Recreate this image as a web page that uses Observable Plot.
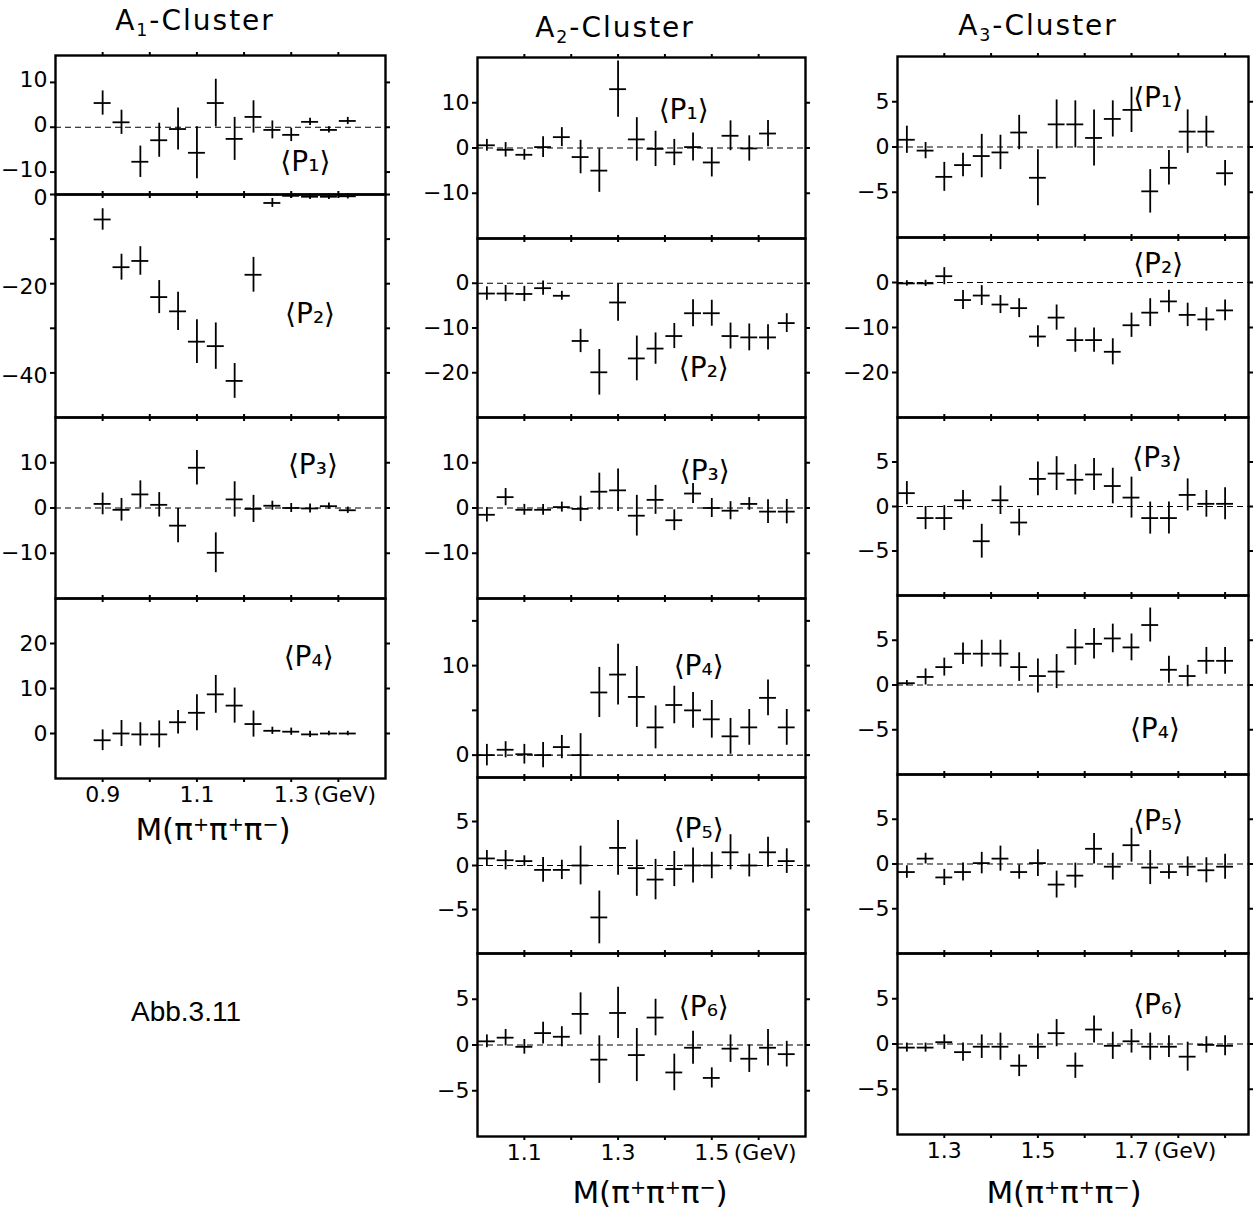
<!DOCTYPE html>
<html>
<head>
<meta charset="utf-8">
<script src="https://cdn.jsdelivr.net/npm/d3@7"></script>
<script src="https://cdn.jsdelivr.net/npm/@observablehq/plot@0.6"></script>
<style>
  body { margin: 0; background: #fff; }
  #fig { position: relative; width: 1255px; height: 1212px; overflow: hidden; color: #000; background: #fff; }
  #fig svg { position: absolute; overflow: visible; }
  .t { position: absolute; white-space: nowrap; line-height: 1; text-align: center; color: #000; }
  .sub { font-size: 0.62em; position: relative; top: 0.32em; }
  .sup { font-size: 0.62em; position: relative; top: -0.45em; }
</style>
</head>
<body>
<div id="fig"></div>
<script>
// ---- mass bin centres, GeV ----
const A1_X = [0.90, 0.94, 0.98, 1.02, 1.06, 1.10, 1.14, 1.18, 1.22, 1.26, 1.30, 1.34, 1.38, 1.42];
const A2_X = [1.02, 1.06, 1.10, 1.14, 1.18, 1.22, 1.26, 1.30, 1.34, 1.38, 1.42, 1.46, 1.50, 1.54, 1.58, 1.62, 1.66];
const A3_X = [1.22, 1.26, 1.30, 1.34, 1.38, 1.42, 1.46, 1.50, 1.54, 1.58, 1.62, 1.66, 1.70, 1.74, 1.78, 1.82, 1.86, 1.90];
const BIN_HALF_WIDTH = 0.018;

// ---- A1 cluster: moments <P_l> and errors ----
const A1_P1 = [5.4, 1.1, -7.7, -2.9, -0.4, -5.7, 5.4, -2.6, 2.3, -0.6, -1.7, 1.2, -0.6, 1.4];
const A1_P1_ERR = [2.7, 2.7, 3.5, 3.8, 4.7, 5.8, 5.3, 4.8, 3.6, 2.0, 1.5, 0.8, 0.7, 0.8];
const A1_P2 = [-5.6, -16.3, -14.9, -23.0, -26.2, -33.0, -34.0, -41.8, -18.0, -1.9, -0.3, -0.5, -0.5, -0.4];
const A1_P2_ERR = [2.4, 2.9, 3.2, 3.7, 4.3, 4.9, 5.2, 3.9, 3.9, 1.0, 0.6, 0.6, 0.6, 0.6];
const A1_P3 = [0.9, -0.4, 3.0, 0.7, -3.9, 8.9, -9.9, 1.9, -0.2, 0.5, 0.0, -0.1, 0.4, -0.5];
const A1_P3_ERR = [2.4, 2.5, 3.0, 2.7, 3.8, 3.8, 4.4, 3.9, 3.0, 1.0, 1.0, 1.0, 0.7, 0.7];
const A1_P4 = [-1.5, 0.0, -0.2, -0.2, 2.5, 4.6, 8.7, 6.2, 2.1, 0.6, 0.4, -0.2, 0.0, 0.0];
const A1_P4_ERR = [2.3, 2.9, 2.6, 3.0, 2.6, 4.0, 4.2, 3.9, 2.9, 0.8, 0.8, 0.7, 0.5, 0.5];

// ---- A2 cluster ----
const A2_P1 = [0.6, -0.4, -1.5, 0.2, 2.4, -2.0, -5.0, 13.0, 1.9, -0.2, -1.0, 0.2, -3.2, 2.7, -0.1, 3.2];
const A2_P1_ERR = [1.3, 1.6, 1.2, 2.3, 2.1, 3.7, 4.8, 6.2, 4.8, 3.9, 2.9, 3.1, 3.2, 3.3, 2.8, 2.9];
const A2_P2 = [-2.3, -2.3, -2.4, -1.1, -2.8, -12.9, -19.9, -4.3, -16.8, -14.6, -11.8, -6.7, -6.7, -11.8, -12.1, -12.1, -8.9];
const A2_P2_ERR = [1.5, 1.8, 1.7, 1.6, 1.0, 2.6, 5.1, 4.2, 5.0, 3.5, 2.8, 3.0, 2.9, 2.9, 3.0, 2.8, 2.1];
const A2_P3 = [-1.5, 2.4, -0.4, -0.4, 0.2, -0.2, 3.6, 3.9, -1.7, 1.8, -2.7, 3.2, 0.0, -0.6, 0.9, -0.8, -0.8];
const A2_P3_ERR = [1.6, 1.9, 1.2, 1.2, 1.1, 2.8, 4.1, 4.7, 4.5, 3.2, 2.3, 2.2, 2.1, 2.0, 1.4, 2.6, 2.7];
const A2_P4 = [0.0, 0.6, 0.1, 0.0, 0.9, 0.0, 7.0, 9.0, 6.5, 3.1, 5.6, 5.0, 4.0, 2.1, 3.1, 6.4, 3.1];
const A2_P4_ERR = [1.2, 0.9, 1.1, 1.4, 1.3, 2.4, 2.8, 3.4, 3.4, 2.4, 2.1, 2.0, 2.1, 2.0, 2.0, 2.0, 2.0];
const A2_P5 = [0.8, 0.6, 0.5, -0.5, -0.5, 0.0, -5.9, 2.0, -0.3, -1.6, -0.4, 0.0, 0.0, 1.5, 0.0, 1.5, 0.5];
const A2_P5_ERR = [0.9, 1.1, 0.6, 1.4, 1.1, 2.2, 3.0, 3.1, 3.2, 2.3, 2.0, 2.0, 1.5, 2.0, 1.3, 1.7, 1.4];
const A2_P6 = [0.4, 0.8, -0.2, 1.3, 0.9, 3.4, -1.6, 3.5, -1.1, 3.0, -3.0, -0.3, -3.6, -0.4, -1.5, -0.3, -1.0];
const A2_P6_ERR = [0.7, 0.9, 0.8, 1.2, 1.1, 2.3, 2.6, 2.8, 2.9, 2.0, 2.0, 1.8, 1.1, 1.5, 1.5, 2.0, 1.4];

// ---- A3 cluster ----
const A3_P1 = [0.8, -0.4, -3.3, -2.0, -1.0, -0.6, 1.6, -3.4, 2.5, 2.5, 1.0, 3.1, 4.1, -4.9, -2.3, 1.7, 1.7, -2.9];
const A3_P1_ERR = [1.5, 0.9, 1.6, 1.3, 2.4, 1.9, 1.9, 3.1, 2.7, 2.6, 3.1, 2.0, 2.5, 2.4, 1.9, 2.4, 1.7, 1.4];
const A3_P2 = [-0.2, -0.2, 1.4, -3.9, -2.9, -4.9, -5.7, -12.0, -7.8, -12.8, -12.8, -15.4, -9.5, -6.7, -4.2, -7.2, -8.2, -6.2];
const A3_P2_ERR = [0.6, 0.7, 1.9, 2.1, 2.2, 2.0, 2.1, 2.4, 2.8, 2.7, 2.7, 2.9, 2.7, 3.1, 2.5, 2.6, 2.6, 2.3];
const A3_P3 = [1.5, -1.3, -1.3, 0.7, -3.9, 0.7, -1.8, 3.1, 3.7, 3.0, 3.6, 2.3, 1.0, -1.3, -1.3, 1.3, 0.3, 0.3];
const A3_P3_ERR = [1.3, 1.3, 1.4, 1.1, 1.9, 1.6, 1.5, 1.9, 1.9, 1.7, 1.8, 2.0, 2.3, 1.8, 1.8, 1.8, 1.5, 1.8];
const A3_P4 = [0.2, 0.9, 2.0, 3.5, 3.5, 3.5, 2.0, 1.0, 1.5, 4.2, 4.6, 5.2, 4.2, 6.7, 1.7, 1.0, 2.7, 2.7];
const A3_P4_ERR = [0.3, 0.9, 1.0, 1.2, 1.5, 1.5, 1.6, 1.9, 1.9, 2.0, 1.7, 1.6, 1.5, 1.9, 1.5, 1.2, 1.5, 1.5];
const A3_P5 = [-0.9, 0.6, -1.5, -0.9, 0.1, 0.6, -0.9, 0.1, -2.3, -1.3, 1.7, -0.3, 2.1, -0.4, -0.9, -0.3, -0.7, -0.3];
const A3_P5_ERR = [0.7, 0.6, 0.9, 1.0, 1.2, 1.4, 0.8, 1.5, 1.5, 1.4, 1.7, 1.5, 1.9, 1.9, 0.8, 1.1, 1.4, 1.4];
const A3_P6 = [-0.4, -0.4, 0.2, -0.9, -0.3, -0.3, -2.4, -0.3, 1.2, -2.4, 1.6, -0.2, 0.3, -0.3, -0.3, -1.4, -0.1, -0.2];
const A3_P6_ERR = [0.5, 0.5, 0.8, 1.0, 1.3, 1.5, 1.2, 1.4, 1.5, 1.4, 1.5, 1.5, 1.3, 1.5, 1.2, 1.6, 0.9, 1.1];

// ---- axis ticks and labels ----
const A1_XTICKS = [0.9, 1.0, 1.1, 1.2, 1.3, 1.4];
const A1_XLABELS = [0.9, 1.1, 1.3];
const A2_XTICKS = [1.1, 1.2, 1.3, 1.4, 1.5, 1.6];
const A2_XLABELS = [1.1, 1.3, 1.5];
const A3_XTICKS = [1.3, 1.4, 1.5, 1.6, 1.7, 1.8, 1.9];
const A3_XLABELS = [1.3, 1.5, 1.7];
const UNIT_LABEL = "(GeV)";
const MOMENT_NAMES = ["⟨P₁⟩", "⟨P₂⟩", "⟨P₃⟩", "⟨P₄⟩", "⟨P₅⟩", "⟨P₆⟩"];

const FONT = "'DejaVu Sans', 'Liberation Sans', sans-serif";

// column geometry (page pixels of each frame) and x scales
const COLS = {
  A1: {left: 55, right: 385, domain: [0.8, 1.5], x: A1_X, ticks: A1_XTICKS, labels: A1_XLABELS, unitAt: 1.3},
  A2: {left: 477, right: 805, domain: [1.0, 1.7], x: A2_X, ticks: A2_XTICKS, labels: A2_XLABELS, unitAt: 1.5},
  A3: {left: 897, right: 1248, domain: [1.2, 1.95], x: A3_X, ticks: A3_XTICKS, labels: A3_XLABELS, unitAt: 1.7}
};

const PANELS = [
  {col: "A1", v: A1_P1, e: A1_P1_ERR, top: 55, bottom: 194, y: [-15, 16], yt: [-10, 0, 10], yl: [-10, 0, 10], zero: true, n: 0, lx: 1.33, ly: -7.8, ldy: -2},
  {col: "A1", v: A1_P2, e: A1_P2_ERR, top: 194, bottom: 417, y: [-50, 0], yt: [0, -10, -20, -30, -40], yl: [0, -20, -40], zero: false, n: 1, lx: 1.34, ly: -26.7, ldy: 3},
  {col: "A1", v: A1_P3, e: A1_P3_ERR, top: 417, bottom: 598, y: [-20, 20], yt: [-10, 0, 10], yl: [-10, 0, 10], zero: true, n: 2, lx: 1.346, ly: 9.6},
  {col: "A1", v: A1_P4, e: A1_P4_ERR, top: 598, bottom: 778, y: [-10, 30], yt: [0, 10, 20], yl: [0, 10, 20], zero: false, n: 3, lx: 1.337, ly: 17, last: true},

  {col: "A2", v: A2_P1, e: A2_P1_ERR, top: 57, bottom: 238, y: [-20, 20], yt: [-10, 0, 10], yl: [-10, 0, 10], zero: true, n: 0, lx: 1.44, ly: 8.4},
  {col: "A2", v: A2_P2, e: A2_P2_ERR, top: 238, bottom: 417, y: [-30, 10], yt: [0, -10, -20], yl: [0, -10, -20], zero: true, n: 1, lx: 1.483, ly: -19},
  {col: "A2", v: A2_P3, e: A2_P3_ERR, top: 417, bottom: 598, y: [-20, 20], yt: [-10, 0, 10], yl: [-10, 0, 10], zero: true, n: 2, lx: 1.485, ly: 8.2},
  {col: "A2", v: A2_P4, e: A2_P4_ERR, top: 598, bottom: 777, y: [-2.5, 17.5], yt: [0, 5, 10, 15], yl: [0, 10], zero: true, n: 3, lx: 1.472, ly: 10},
  {col: "A2", v: A2_P5, e: A2_P5_ERR, top: 777, bottom: 953, y: [-10, 10], yt: [-5, 0, 5], yl: [-5, 0, 5], zero: true, n: 4, lx: 1.472, ly: 4.2},
  {col: "A2", v: A2_P6, e: A2_P6_ERR, top: 953, bottom: 1136, y: [-10, 10], yt: [-5, 0, 5], yl: [-5, 0, 5], zero: true, n: 5, lx: 1.483, ly: 4.1, last: true},

  {col: "A3", v: A3_P1, e: A3_P1_ERR, top: 56, bottom: 237, y: [-10, 10], yt: [-5, 0, 5], yl: [-5, 0, 5], zero: true, n: 0, lx: 1.757, ly: 5.4},
  {col: "A3", v: A3_P2, e: A3_P2_ERR, top: 237, bottom: 417, y: [-30, 10], yt: [0, -10, -20], yl: [0, -10, -20], zero: true, n: 1, lx: 1.757, ly: 4.2},
  {col: "A3", v: A3_P3, e: A3_P3_ERR, top: 417, bottom: 595, y: [-10, 10], yt: [-5, 0, 5], yl: [-5, 0, 5], zero: true, n: 2, lx: 1.755, ly: 5.4},
  {col: "A3", v: A3_P4, e: A3_P4_ERR, top: 595, bottom: 774, y: [-10, 10], yt: [-5, 0, 5], yl: [-5, 0, 5], zero: true, n: 3, lx: 1.75, ly: -4.9},
  {col: "A3", v: A3_P5, e: A3_P5_ERR, top: 774, bottom: 953, y: [-10, 10], yt: [-5, 0, 5], yl: [-5, 0, 5], zero: true, n: 4, lx: 1.757, ly: 4.8},
  {col: "A3", v: A3_P6, e: A3_P6_ERR, top: 953, bottom: 1134, y: [-10, 10], yt: [-5, 0, 5], yl: [-5, 0, 5], zero: true, n: 5, lx: 1.757, ly: 4.3, last: true}
];

const fig = document.getElementById("fig");
const fmtY = d => d < 0 ? "\u2212" + Math.abs(d) : String(d);
const blank = () => "";

function drawPanel(p) {
  const col = COLS[p.col];
  const rows = p.v.map((v, i) => ({x: col.x[i], y: v, e: p.e[i]}));
  const m = 6;
  const W = col.right - col.left;
  const H = p.bottom - p.top;
  const marks = [];
  if (p.zero) marks.push(Plot.ruleY([0], {stroke: "#000", strokeWidth: 1.2, strokeDasharray: "6,4"}));
  marks.push(
    // vertical error bars
    Plot.ruleX(rows, {x: "x", y1: d => d.y - d.e, y2: d => d.y + d.e, stroke: "#000", strokeWidth: 1.8}),
    // horizontal bin-width bars
    Plot.ruleY(rows, {y: "y", x1: d => d.x - BIN_HALF_WIDTH, x2: d => d.x + BIN_HALF_WIDTH, stroke: "#000", strokeWidth: 1.8}),
    Plot.frame({stroke: "#000", strokeWidth: 2.4}),
    // left tick marks, then the numbered subset of them
    Plot.axisY({anchor: "left", ticks: p.yt, tickSize: 5, strokeWidth: 2, tickFormat: blank, label: null}),
    Plot.axisY({anchor: "left", ticks: p.yl, tickSize: 0, tickPadding: 8, dy: p.ldy || 0, tickFormat: fmtY, label: null}),
    Plot.axisY({anchor: "right", ticks: p.yt, tickSize: 4, strokeWidth: 2, tickFormat: blank, label: null}),
    Plot.axisX({anchor: "top", ticks: col.ticks, tickSize: 4, strokeWidth: 2, tickFormat: blank, label: null}),
    Plot.axisX({anchor: "bottom", ticks: col.ticks, tickSize: 4, tickPadding: 4, strokeWidth: 2,
      tickFormat: p.last ? (d => col.labels.includes(d) ? d.toFixed(1) : "") : blank, label: null}),
    Plot.text([{x: p.lx, y: p.ly, t: MOMENT_NAMES[p.n]}], {x: "x", y: "y", text: "t", fontSize: 28, fontFamily: FONT, fill: "#000"})
  );
  if (p.last) {
    marks.push(Plot.text([{x: col.unitAt, t: UNIT_LABEL}], {
      x: "x", text: "t", frameAnchor: "bottom", lineAnchor: "top", textAnchor: "start",
      dx: 22, dy: 8, fill: "#000"
    }));
  }
  const svg = Plot.plot({
    width: W + 2 * m,
    height: H + 2 * m,
    margin: m,
    x: {domain: col.domain},
    y: {domain: p.y},
    style: {background: "transparent", overflow: "visible", fontFamily: FONT, fontSize: "22px", color: "#000"},
    marks
  });
  svg.style.left = (col.left - m) + "px";
  svg.style.top = (p.top - m) + "px";
  fig.appendChild(svg);
}

PANELS.forEach(drawPanel);

// titles, axis captions and figure number
function addText(html, cx, baseline, size, family, extra) {
  const d = document.createElement("div");
  d.className = "t";
  d.innerHTML = html;
  d.style.fontSize = size + "px";
  d.style.fontFamily = family;
  d.style.width = "400px";
  d.style.left = (cx - 200) + "px";
  d.style.top = (baseline - 0.84 * size) + "px";
  if (extra) Object.assign(d.style, extra);
  fig.appendChild(d);
}
const TITLE_FONT = "'DejaVu Sans', sans-serif";
addText('A<span class="sub">1</span>-Cluster', 195, 31, 28, TITLE_FONT, {letterSpacing: "2px"});
addText('A<span class="sub">2</span>-Cluster', 615, 38, 28, TITLE_FONT, {letterSpacing: "2px"});
addText('A<span class="sub">3</span>-Cluster', 1038, 36, 28, TITLE_FONT, {letterSpacing: "2px"});
const MASS_LABEL = 'M(π<span class="sup">+</span>π<span class="sup">+</span>π<span class="sup">−</span>)';
addText(MASS_LABEL, 213, 840, 31, TITLE_FONT);
addText(MASS_LABEL, 650, 1203, 31, TITLE_FONT);
addText(MASS_LABEL, 1064, 1203, 31, TITLE_FONT);
addText('Abb.3.11', 186, 1022, 28, "'Liberation Sans', Arial, sans-serif");
</script>
</body>
</html>
